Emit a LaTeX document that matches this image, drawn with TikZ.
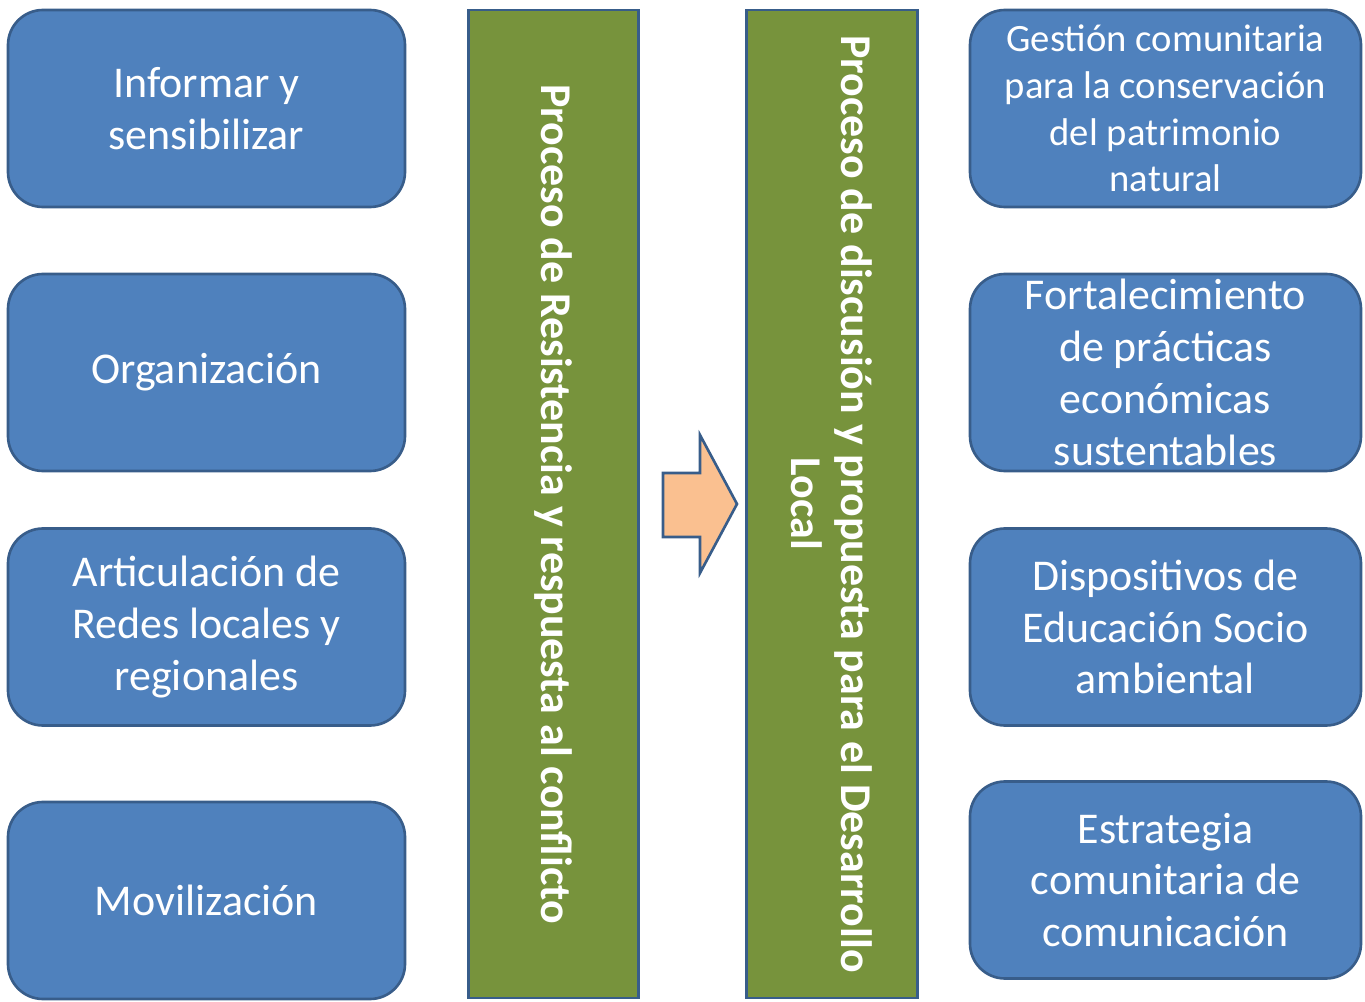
\documentclass[tikz,border=0pt]{standalone}
\usepackage{fontspec}
\setmainfont{Carlito}
\definecolor{boxblue}{RGB}{79,129,189}
\definecolor{boxedge}{RGB}{56,93,138}
\definecolor{bargreen}{RGB}{119,147,60}
\definecolor{arrowfill}{RGB}{250,192,144}
\tikzset{
  tarea/.style={draw=boxedge, line width=1.5pt, fill=boxblue, rounded corners=0.7cm,
    text=white, align=center, inner sep=0pt, minimum height=3.94cm,
    font=\fontsize{25}{29.5}\selectfont},
  tareaizq/.style={tarea, minimum width=7.94cm},
  tareader/.style={tarea, minimum width=7.82cm},
  proceso/.style={draw=boxedge, line width=1.5pt, fill=bargreen, rotate=-90,
    text=white, align=center, inner sep=0pt, minimum width=19.76cm, minimum height=3.41cm,
    font=\fontsize{25}{28.5}\selectfont\bfseries},
  flecha/.style={draw=boxedge, line width=1.5pt, fill=arrowfill, line join=miter}
}
\begin{document}
\begin{tikzpicture}
\useasboundingbox (0.000000,0.000000) rectangle (27.300000,20.020000);

% Drawing left column
\node [tareaizq] (informar) at (4.130000,17.850000) {Informar y\\sensibilizar};
\node [tareaizq] (organizacion) at (4.130000,12.570000) {Organización};
\node [tareaizq] (articulacion) at (4.130000,7.480000) {Articulación de\\Redes locales y\\regionales};
\node [tareaizq] (movilizacion) at (4.130000,2.010000) {Movilización};

% Drawing the two process bars
\node [proceso] (resistencia) at (11.070000,9.940000) {Proceso de Resistencia y respuesta al conflicto};
\node [proceso] (discusion) at (16.640000,9.940000) {Proceso de discusión y propuesta para el Desarrollo\\Local};

% Drawing block arrow
\draw [flecha] (13.260000,10.560000) -- (14.000000,10.560000) -- (14.000000,11.320000)
  -- (14.740000,9.940000) -- (14.000000,8.560000) -- (14.000000,9.280000)
  -- (13.260000,9.280000) -- cycle;

% Drawing right column
\node [tareader, font=\fontsize{22}{26.5}\selectfont] (gestion) at (23.310000,17.850000) {Gestión comunitaria\\para la conservación\\del patrimonio\\natural};
\node [tareader] (fortalecimiento) at (23.310000,12.570000) {Fortalecimiento\\de prácticas\\económicas\\sustentables};
\node [tareader] (dispositivos) at (23.310000,7.480000) {Dispositivos de\\Educación Socio\\ambiental};
\node [tareader] (estrategia) at (23.310000,2.420000) {Estrategia\\comunitaria de\\comunicación};
\end{tikzpicture}
\end{document}
